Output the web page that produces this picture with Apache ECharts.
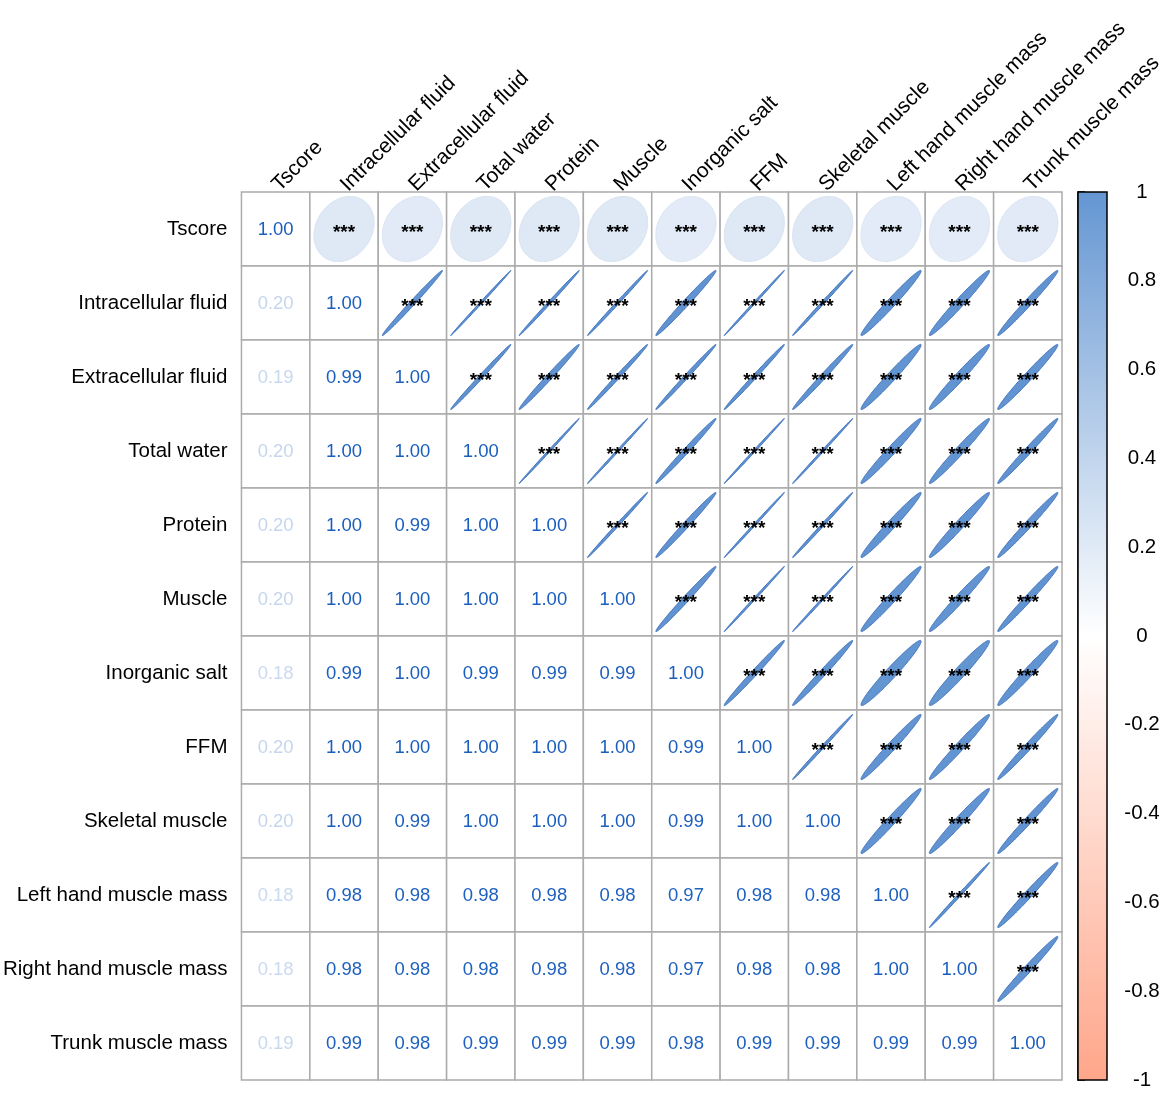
<!DOCTYPE html>
<html>
<head>
<meta charset="utf-8">
<script src="https://cdn.jsdelivr.net/npm/echarts@6/dist/echarts.min.js"></script>
<style>html,body{margin:0;padding:0;background:#fff}#c{width:1169px;height:1097px}</style>
</head>
<body>
<div id="c"></div>
<script>
// ---- data ----
const variables = ["Tscore","Intracellular fluid","Extracellular fluid","Total water","Protein","Muscle","Inorganic salt","FFM","Skeletal muscle","Left hand muscle mass","Right hand muscle mass","Trunk muscle mass"];
// lower triangle (incl. diagonal) of correlation matrix, row by row
// (third decimal estimated from ellipse widths; labels show two decimals)
const corrRows = [
  [1.000],
  [0.20,1.000],
  [0.19,0.994,1.000],
  [0.20,0.999,0.996,1.000],
  [0.20,0.998,0.992,0.999,1.000],
  [0.20,0.998,0.996,0.999,0.998,1.000],
  [0.18,0.990,0.996,0.993,0.991,0.991,1.000],
  [0.20,0.999,0.996,0.999,0.999,0.999,0.992,1.000],
  [0.20,0.998,0.993,0.999,0.998,0.999,0.990,0.998,1.000],
  [0.18,0.982,0.981,0.983,0.982,0.982,0.972,0.983,0.982,1.000],
  [0.18,0.982,0.981,0.983,0.982,0.982,0.972,0.983,0.982,0.998,1.000],
  [0.19,0.988,0.984,0.989,0.988,0.988,0.980,0.989,0.988,0.987,0.987,1.000]
];
const sigLabel = "***";

// ---- build cells ----
const n = variables.length;
const cells = [];
for (let i = 0; i < n; i++) {
  for (let j = 0; j < n; j++) {
    const r = j <= i ? corrRows[i][j] : corrRows[j][i];
    cells.push([j, i, r, j <= i ? 0 : 1]); // 0=number, 1=ellipse
  }
}

function mix(c1, c2, t) {
  const a = [parseInt(c1.slice(1,3),16),parseInt(c1.slice(3,5),16),parseInt(c1.slice(5,7),16)];
  const b = [parseInt(c2.slice(1,3),16),parseInt(c2.slice(3,5),16),parseInt(c2.slice(5,7),16)];
  return 'rgb(' + a.map((v,k)=>Math.round(v+(b[k]-v)*t)).join(',') + ')';
}
function fillColor(r) { return r >= 0 ? mix('#FFFFFF','#5F92D0',r) : mix('#FFFFFF','#FFA68A',-r); }
function strokeColor(r) { return r >= 0 ? mix('#FFFFFF','#3E72BE',r) : mix('#FFFFFF','#E0705A',-r); }
function textColor(r) { return r >= 0 ? mix('#FFFFFF','#1A5EBE',Math.pow(r,0.85)) : mix('#FFFFFF','#C0392B',-r); }

function renderCell(params, api) {
  const col = api.value(0), row = api.value(1), r = api.value(2), kind = api.value(3);
  const c = api.coord([col, row]);
  const s = api.size([1, 1]);
  const children = [{
    type: 'rect',
    shape: {x: c[0]-s[0]/2, y: c[1]-s[1]/2, width: s[0], height: s[1]},
    style: {fill: '#fff', stroke: '#ABABAB', lineWidth: 1.5}
  }];
  if (kind === 0) {
    children.push({
      type: 'text',
      style: {x: c[0], y: c[1]+1, text: r.toFixed(2), fill: textColor(r),
        font: '18.5px "Liberation Sans", Arial, sans-serif', textAlign: 'center', textVerticalAlign: 'middle'}
    });
  } else {
    const d = Math.acos(Math.max(-1, Math.min(1, r)));
    const sx = 0.44 * s[0], sy = 0.44 * s[1];
    const pts = [];
    for (let k = 0; k < 160; k++) {
      const t = k / 160 * Math.PI * 2;
      pts.push([c[0] + sx*Math.cos(t + d/2), c[1] - sy*Math.cos(t - d/2)]);
    }
    children.push({type: 'polygon', shape: {points: pts}, style: {fill: fillColor(r), stroke: strokeColor(r), lineWidth: 1}});
    children.push({
      type: 'text',
      style: {x: c[0], y: c[1]+4, text: sigLabel, fill: '#000',
        font: 'bold 19px "Liberation Sans", Arial, sans-serif', textAlign: 'center', textVerticalAlign: 'middle'}
    });
  }
  return {type: 'group', children};
}

function renderBar(params, api) {
  const top = api.coord([0, 1]);
  const bot = api.coord([1, -1]);
  return {
    type: 'rect',
    shape: {x: top[0], y: top[1], width: bot[0]-top[0], height: bot[1]-top[1]},
    style: {
      fill: new echarts.graphic.LinearGradient(0,0,0,1,[
        {offset: 0, color: '#6496D2'},
        {offset: 0.5, color: '#FFFFFF'},
        {offset: 1, color: '#FFA68A'}
      ]),
      stroke: '#000', lineWidth: 1.5
    }
  };
}

const chart = echarts.init(document.getElementById('c'), null, {renderer: 'canvas'});
chart.setOption({
  backgroundColor: '#fff',
  animation: false,
  grid: [
    {left: 241, top: 192, width: 821, height: 888},
    {left: 1078, top: 192, width: 29, height: 888}
  ],
  xAxis: [
    {type: 'category', data: variables, position: 'top', gridIndex: 0,
     axisLine: {show: false}, axisTick: {show: false}, splitLine: {show: false},
     axisLabel: {interval: 0, rotate: -45, margin: 4, fontSize: 21, color: '#000', fontFamily: 'Liberation Sans'}},
    {type: 'value', gridIndex: 1, min: 0, max: 1, show: false}
  ],
  yAxis: [
    {type: 'category', data: variables, inverse: true, gridIndex: 0,
     axisLine: {show: false}, axisTick: {show: false}, splitLine: {show: false},
     axisLabel: {interval: 0, margin: 14, fontSize: 20.5, color: '#000', fontFamily: 'Liberation Sans'}},
    {type: 'value', gridIndex: 1, position: 'right', min: -1, max: 1, interval: 0.2,
     axisLine: {show: true, lineStyle: {color: '#000', width: 1.5}},
     axisTick: {show: true, length: 7, lineStyle: {color: '#000', width: 1.5}},
     splitLine: {show: false},
     axisLabel: {margin: 35, align: 'center', fontSize: 20.5, color: '#000', fontFamily: 'Liberation Sans',
       formatter: v => String(+(+v).toFixed(1))}}
  ],
  series: [
    {type: 'custom', xAxisIndex: 0, yAxisIndex: 0, renderItem: renderCell, data: cells, silent: true},
    {type: 'custom', xAxisIndex: 1, yAxisIndex: 1, renderItem: renderBar, data: [[0]], silent: true, z: 1}
  ]
});
</script>
</body>
</html>
